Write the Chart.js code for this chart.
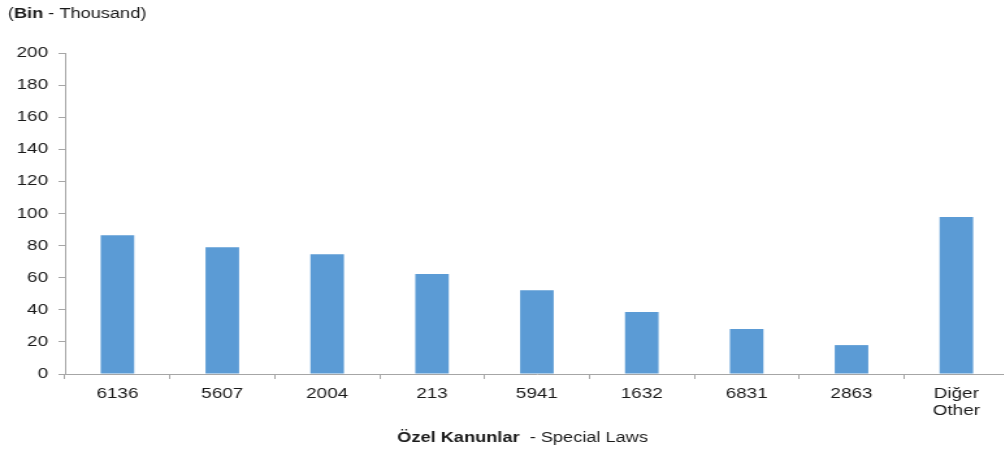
<!DOCTYPE html>
<html lang="tr">
<head>
  <meta charset="UTF-8" />
  <title>Özel Kanunlar</title>
  <script src="https://cdn.jsdelivr.net/npm/chart.js"></script>
  <style>
    html, body {
      margin: 0;
      padding: 0;
      background: #fff;
      overflow: hidden;
    }
    /* the original picture is stretched horizontally, so the whole chart is too */
    #wrap {
      width: 776px;
      height: 452px;
      transform: scaleX(1.3);
      transform-origin: 0 0;
    }
  </style>
</head>
<body>
  <div id="wrap"><canvas id="chart" width="776" height="452"></canvas></div>

  <script>
    // kanun numaraları ve değerler (bin)
    const categories = ['6136', '5607', '2004', '213', '5941', '1632', '6831', '2863', ['Diğer', 'Other']];
    const values = [86.5, 79, 74.6, 62.3, 52.2, 38.6, 28, 18, 97.8];
    const yTicks = [0, 20, 40, 60, 80, 100, 120, 140, 160, 180, 200];

    const unitTitle = ['Bin', ' - Thousand'];
    const axisTitle = ['Özel Kanunlar', '  - Special Laws'];

    const FONT = '"Liberation Sans", Arial, sans-serif';
    const GREY = '#a6a6a6';
    const TEXT = '#1a1a1a';

    // başlıklar: kalın + normal karışık yazı
    const titles = {
      id: 'titles',
      afterDraw(chart) {
        const ctx = chart.ctx;
        ctx.save();
        ctx.fillStyle = TEXT;
        ctx.textBaseline = 'middle';

        // (Bin - Thousand)
        let x = 6;
        ctx.font = '14px ' + FONT;
        ctx.fillText('(', x, 14);
        x += ctx.measureText('(').width;
        ctx.font = 'bold 14px ' + FONT;
        ctx.fillText(unitTitle[0], x, 14);
        x += ctx.measureText(unitTitle[0]).width;
        ctx.font = '14px ' + FONT;
        ctx.fillText(unitTitle[1] + ')', x, 14);

        // Özel Kanunlar - Special Laws
        ctx.font = 'bold 14px ' + FONT;
        const w1 = ctx.measureText(axisTitle[0]).width;
        ctx.font = '14px ' + FONT;
        const w2 = ctx.measureText(axisTitle[1]).width;
        let bx = 402 - (w1 + w2) / 2;
        ctx.font = 'bold 14px ' + FONT;
        ctx.fillText(axisTitle[0], bx, 438);
        ctx.font = '14px ' + FONT;
        ctx.fillText(axisTitle[1], bx + w1, 438);
        ctx.restore();
      }
    };

    new Chart(document.getElementById('chart').getContext('2d'), {
      type: 'bar',
      data: {
        labels: categories,
        datasets: [{
          data: values,
          backgroundColor: '#5b9bd5',
          borderWidth: 0,
          barPercentage: 0.32,
          categoryPercentage: 1
        }]
      },
      options: {
        responsive: false,
        maintainAspectRatio: false,
        animation: false,
        layout: {
          padding: { top: 53, right: 0, bottom: 0, left: 0 }
        },
        scales: {
          x: {
            offset: true,
            grid: {
              offset: true,
              drawOnChartArea: false,
              drawTicks: true,
              tickLength: 5,
              color: GREY
            },
            border: { color: GREY, width: 1 },
            ticks: {
              autoSkip: false,
              maxRotation: 0,
              padding: 6,
              color: TEXT,
              font: { family: FONT, size: 14.5 }
            },
            afterFit(scale) { scale.height = 78; }
          },
          y: {
            min: 0,
            max: 200,
            afterBuildTicks(scale) { scale.ticks = yTicks.map(v => ({ value: v })); },
            grid: {
              drawOnChartArea: false,
              drawTicks: true,
              tickLength: 5,
              color: GREY
            },
            border: { color: GREY, width: 1 },
            ticks: {
              padding: 8,
              color: TEXT,
              font: { family: FONT, size: 14.5 }
            },
            afterFit(scale) { scale.width = 50; }
          }
        },
        plugins: {
          legend: { display: false },
          tooltip: { enabled: false }
        }
      },
      plugins: [titles]
    });
  </script>
</body>
</html>
